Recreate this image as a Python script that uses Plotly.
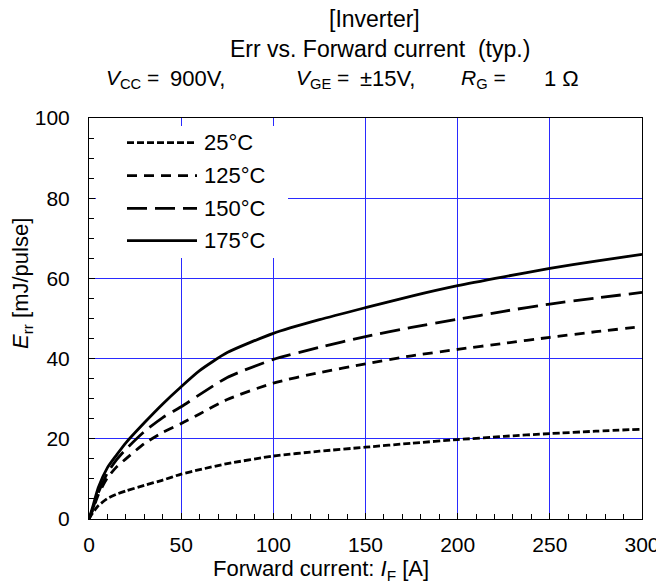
import plotly.graph_objects as go

# Forward current [A]
current = [0, 2, 5, 10, 15, 20, 30, 40, 50, 60, 75, 100, 125, 150, 175, 200, 225, 250, 275, 300]

# Reverse recovery energy Err [mJ/pulse] per junction temperature
err_25 = [0, 1.5, 3.3, 5.1, 6.2, 7.0, 8.4, 9.7, 11.2, 12.3, 13.8, 15.7, 16.9, 17.9, 18.9, 19.8, 20.6, 21.3, 21.9, 22.4]
err_125 = [0, 2.2, 6.0, 10.3, 13.0, 15.0, 18.8, 21.6, 23.8, 26.2, 29.8, 33.9, 36.5, 38.7, 40.7, 42.3, 43.8, 45.3, 46.7, 48.0]
err_150 = [0, 2.5, 6.5, 11.5, 14.8, 17.4, 21.8, 25.3, 28.0, 31.0, 35.3, 39.8, 42.8, 45.5, 47.8, 49.8, 51.8, 53.6, 55.1, 56.5]
err_175 = [0, 3.0, 7.8, 12.8, 16.0, 19.0, 24.0, 28.7, 33.0, 37.0, 41.5, 46.3, 49.7, 52.7, 55.6, 58.2, 60.4, 62.5, 64.3, 66.0]

series_names = ["25°C", "125°C", "150°C", "175°C"]
series_values = [err_25, err_125, err_150, err_175]
series_dash = ["7px,3px", "10px,7px", "20px,8px", "solid"]

FONT = "Liberation Sans, Arial, sans-serif"
FS = 21
GRID = "#2a2aff"

# plot-area geometry in pixels (for paper-coordinate helpers)
W, H = 656, 583
ML, MR, MT, MB = 89, 14, 118, 64
PW, PH = W - ML - MR, H - MT - MB


def px(x):
    return (x - ML) / PW


def py(y):
    return (H - MB - y) / PH


fig = go.Figure()
for name, vals, dash in zip(series_names, series_values, series_dash):
    fig.add_trace(go.Scatter(
        x=current, y=vals, name=name, mode="lines",
        line=dict(color="black", width=2.8, dash=dash, shape="spline", smoothing=0.6),
        showlegend=False,
    ))

axis_common = dict(
    showline=True, linecolor="black", linewidth=1, mirror=True,
    showgrid=True, gridcolor=GRID, gridwidth=1,
    zeroline=False, ticks="inside", ticklen=6, tickcolor="black", tickwidth=1,
    tickfont=dict(family=FONT, size=FS, color="black"),
    ticklabeloverflow="allow", automargin=False,
)

fig.update_xaxes(range=[0, 300], dtick=50, tick0=0,
                 minor=dict(dtick=10, ticks="inside", ticklen=5, tickcolor="black",
                            showgrid=False, gridcolor=GRID),
                 ticklabelstandoff=7, **axis_common)
fig.update_yaxes(range=[0, 100], dtick=20, tick0=0,
                 minor=dict(dtick=5, ticks="inside", ticklen=5, tickcolor="black",
                            showgrid=False, gridcolor=GRID),
                 ticklabelstandoff=14, **axis_common)

shapes = []
# white backing behind the legend block
shapes.append(dict(type="rect", xref="paper", yref="paper",
                   x0=px(96), x1=px(288), y0=py(258), y1=py(126),
                   fillcolor="white", line=dict(width=0), layer="above"))

annotations = []
legend_y = [142.7, 175.7, 208.3, 240.7]
for name, dash, ly in zip(series_names, series_dash, legend_y):
    shapes.append(dict(type="line", xref="paper", yref="paper",
                       x0=px(127), x1=px(197), y0=py(ly), y1=py(ly),
                       line=dict(color="black", width=2.8, dash=dash), layer="above"))
    annotations.append(dict(text=name, xref="paper", yref="paper",
                            x=px(202), y=py(ly), xanchor="left", yanchor="middle",
                            showarrow=False, font=dict(family=FONT, size=22, color="black")))


def add_text(text, x, y, xanchor="center", size=FS, angle=0):
    annotations.append(dict(text=text, xref="paper", yref="paper", x=px(x), y=py(y),
                            xanchor=xanchor, yanchor="middle", showarrow=False,
                            textangle=angle,
                            font=dict(family=FONT, size=size, color="black")))


# title block
add_text("[Inverter]", 374, 19, size=23)
add_text("Err vs. Forward current\u00a0\u00a0(typ.)", 380, 49, size=23)
add_text("<i>V</i><sub>CC</sub>\u00a0=", 104, 79, "left", size=21)
add_text("900V,", 168, 79, "left", size=22)
add_text("<i>V</i><sub>GE</sub>\u00a0=", 294, 79, "left", size=21)
add_text("±15V,", 358, 79, "left", size=22)
add_text("<i>R</i><sub>G</sub>\u00a0=", 459, 79, "left", size=21)
add_text("1 Ω", 542, 79, "left", size=22)

# axis titles
add_text("Forward current: <i>I</i><sub>F</sub> [A]", 321, 570, size=22)
add_text("<i>E</i><sub>rr</sub> [mJ/pulse]", 22, 284, size=22, angle=-90)

fig.update_layout(
    width=W, height=H,
    margin=dict(l=ML, r=MR, t=MT, b=MB, autoexpand=False),
    paper_bgcolor="white", plot_bgcolor="white",
    shapes=shapes, annotations=annotations,
    showlegend=False,
)

fig.write_html("out.html")
